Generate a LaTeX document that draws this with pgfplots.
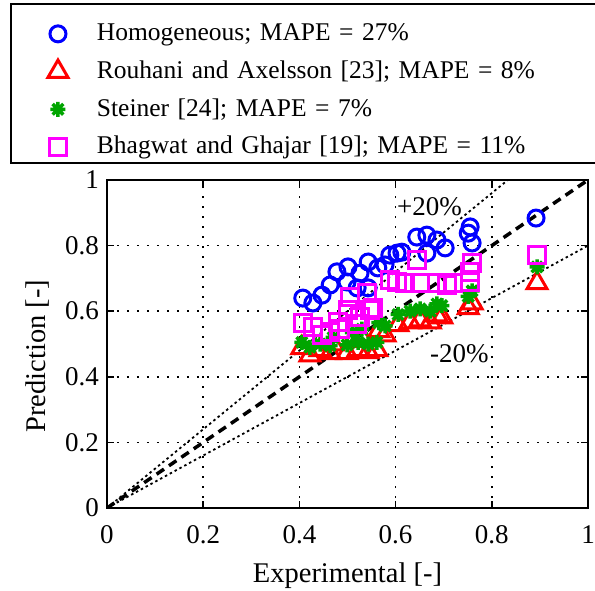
\documentclass[border=0pt]{standalone}
\usepackage{fontspec}
\setmainfont{Liberation Serif}
\usepackage{pgfplots}
\pgfplotsset{compat=1.18}
\definecolor{mblue}{RGB}{0,0,255}
\definecolor{mred}{RGB}{255,0,0}
\definecolor{mgreen}{RGB}{0,165,0}
\definecolor{mmag}{RGB}{255,0,255}
\pgfdeclareplotmark{mstar}{%
  \pgfpathmoveto{\pgfpoint{0pt}{\pgfplotmarksize}}\pgfpathlineto{\pgfpoint{0pt}{-\pgfplotmarksize}}%
  \pgfpathmoveto{\pgfpoint{\pgfplotmarksize}{0pt}}\pgfpathlineto{\pgfpoint{-\pgfplotmarksize}{0pt}}%
  \pgfpathmoveto{\pgfpoint{0.707\pgfplotmarksize}{0.707\pgfplotmarksize}}\pgfpathlineto{\pgfpoint{-0.707\pgfplotmarksize}{-0.707\pgfplotmarksize}}%
  \pgfpathmoveto{\pgfpoint{0.707\pgfplotmarksize}{-0.707\pgfplotmarksize}}\pgfpathlineto{\pgfpoint{-0.707\pgfplotmarksize}{0.707\pgfplotmarksize}}%
  \pgfusepathqstroke}
\pgfplotsset{mleg/.style={legend image code/.code={%
  \draw[##1, only marks] plot coordinates {(30pt,-7pt)};
  \path[draw=none, fill=none] (0pt,-7pt) rectangle (60pt,-7pt);}}}
\begin{document}
\begin{tikzpicture}
\begin{axis}[
  scale only axis, width=481pt, height=328pt,
  xmin=0, xmax=1, ymin=0, ymax=1,
  xtick={0,0.2,0.4,0.6,0.8,1}, ytick={0,0.2,0.4,0.6,0.8,1},
  /pgf/number format/assume math mode=true,
  tick label style={font=\fontsize{27}{32}\selectfont},
  xticklabel style={inner sep=0pt, yshift=-17pt},
  yticklabel style={inner sep=0pt, xshift=-8pt},
  tick align=inside, major tick length=7pt,
  every tick/.style={black, line width=1.5pt},
  axis line style={line width=2pt},
  grid=major,
  major grid style={black, line width=1.6pt, dash pattern=on 1.6pt off 8.4pt},
  xlabel={Experimental [-]}, ylabel={Prediction [-]},
  label style={font=\fontsize{28.5}{34}\selectfont},
  xlabel style={at={(axis description cs:0.5,-0.2256)}, anchor=base},
  ylabel style={at={(axis description cs:-0.1450,0.4634)}, anchor=center},
  legend style={at={(axis description cs:-0.2017,1.5396)}, anchor=north west,
    draw=black, line width=2pt, fill=white, inner xsep=17pt, inner ysep=4pt,
    row sep=0pt, font=\fontsize{25.5}{30}\selectfont,
    nodes={inner sep=0pt, text height=32.7pt, text depth=5pt},
    /tikz/every odd column/.append style={column sep=9pt},
    /tikz/every even column/.append style={text width=520pt, align=left}},
  legend cell align=left,
]
\addplot[only marks, mark=o, color=mblue, mark size=8pt, line width=3pt, mleg] coordinates {
(0.407,0.640)(0.428,0.625)(0.447,0.649)(0.464,0.680)(0.478,0.720)(0.499,0.689)
(0.501,0.735)(0.520,0.671)(0.526,0.716)(0.543,0.750)(0.543,0.671)(0.563,0.732)
(0.578,0.741)(0.588,0.771)(0.603,0.777)(0.613,0.780)(0.644,0.826)(0.665,0.832)
(0.665,0.777)(0.686,0.817)(0.703,0.793)(0.751,0.838)(0.755,0.857)(0.759,0.808)
(0.892,0.884)};
\addlegendentry{Homogeneous; MAPE = 27\%}
\addplot[only marks, mark=triangle, color=mred, mark size=11.5pt, line width=3pt, mleg] coordinates {
(0.405,0.488)(0.422,0.466)(0.443,0.482)(0.464,0.473)(0.470,0.500)(0.499,0.473)
(0.510,0.510)(0.522,0.482)(0.530,0.520)(0.543,0.476)(0.561,0.482)(0.565,0.540)
(0.578,0.527)(0.605,0.558)(0.630,0.567)(0.651,0.573)(0.672,0.567)(0.686,0.588)
(0.696,0.582)(0.751,0.610)(0.759,0.625)(0.894,0.686)};
\addlegendentry{Rouhani and Axelsson [23]; MAPE = 8\%}
\addplot[only marks, mark=mstar, color=mgreen, mark size=7.5pt, line width=3.5pt, mleg] coordinates {
(0.405,0.505)(0.422,0.490)(0.443,0.500)(0.464,0.495)(0.470,0.520)(0.499,0.497)
(0.510,0.535)(0.522,0.505)(0.530,0.545)(0.543,0.500)(0.561,0.505)(0.565,0.565)
(0.578,0.555)(0.605,0.590)(0.630,0.600)(0.651,0.607)(0.672,0.600)(0.686,0.622)
(0.696,0.617)(0.751,0.645)(0.759,0.662)(0.894,0.735)};
\addlegendentry{Steiner [24]; MAPE = 7\%}
\addplot[only marks, mark=square, color=mmag, mark size=8.5pt, line width=3pt, mleg] coordinates {
(0.407,0.564)(0.428,0.552)(0.447,0.527)(0.464,0.537)(0.480,0.567)(0.485,0.545)
(0.501,0.604)(0.505,0.643)(0.520,0.560)(0.526,0.582)(0.547,0.604)(0.541,0.655)
(0.553,0.610)(0.588,0.695)(0.603,0.689)(0.620,0.686)(0.644,0.756)(0.651,0.686)
(0.686,0.686)(0.707,0.680)(0.719,0.686)(0.755,0.689)(0.755,0.720)(0.759,0.747)
(0.894,0.771)};
\addlegendentry{Bhagwat and Ghajar [19]; MAPE = 11\%}
\addplot[forget plot, black, line width=3.5pt, dash pattern=on 9pt off 6pt] coordinates {(0,0)(1,1)};
\addplot[forget plot, black, line width=1.8pt, dash pattern=on 2.5pt off 3pt] coordinates {(0,0)(0.8333,1)};
\addplot[forget plot, black, line width=1.8pt, dash pattern=on 2.5pt off 3pt] coordinates {(0,0)(1,0.8)};
\node[anchor=base west, inner sep=0pt, font=\fontsize{27}{32}\selectfont] at (axis cs:0.603,0.893) {+20\%};
\node[anchor=base west, inner sep=0pt, font=\fontsize{27}{32}\selectfont] at (axis cs:0.6715,0.445) {-20\%};
\end{axis}
\pgfresetboundingbox
\path (-107pt,-82pt) rectangle (488pt,508pt);
\end{tikzpicture}
\end{document}
